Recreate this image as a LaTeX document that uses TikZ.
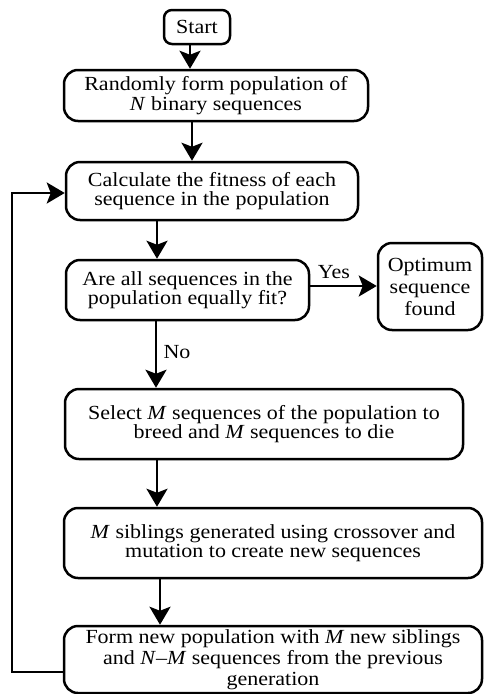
\documentclass[tikz,border=0pt]{standalone}
\usepackage{fontspec}
\setmainfont{Liberation Serif}[FakeStretch=1.1]
\usetikzlibrary{arrows.meta}
\begin{document}
\begin{tikzpicture}[x=1pt,y=-1pt,
  box/.style={draw, line width=2.5pt, rounded corners=14pt, inner sep=0pt,
    align=center, font=\fontsize{20}{19.5}\selectfont},
  arr/.style={line width=2.6pt, -{Stealth[length=18pt,width=21pt,inset=4pt]}},
  lbl/.style={font=\fontsize{20}{20}\selectfont, inner sep=0pt}]
\useasboundingbox (0,0) rectangle (483,694);

% process boxes
\node[box, minimum width=66pt, minimum height=34pt, rounded corners=8pt] (start) at (197,27) {Start};
\node[box, minimum width=304pt, minimum height=51pt] (rand) at (216,95.5)
  {Randomly form population of\\\textit{N} binary sequences};
\node[box, minimum width=292pt, minimum height=58pt] (calc) at (212,191)
  {Calculate the fitness of each\\sequence in the population};
\node[box, minimum width=243pt, minimum height=60pt] (test) at (187.5,290)
  {Are all sequences in the\\population equally fit?};
\node[box, minimum width=104pt, minimum height=87pt, font=\fontsize{20}{22}\selectfont] (opt) at (430,286.5)
  {Optimum\\sequence\\found};
\node[box, minimum width=398pt, minimum height=70pt] (sel) at (264,424)
  {Select \textit{M} sequences of the population to\\breed and \textit{M} sequences to die};
\node[box, minimum width=418pt, minimum height=70pt] (sib) at (273,543)
  {\textit{M} siblings generated using crossover and\\mutation to create new sequences};
\node[box, minimum width=418pt, minimum height=67pt, font=\fontsize{20}{21}\selectfont] (form) at (273,659.5)
  {Form new population with \textit{M} new siblings\\and \textit{N}--\textit{M} sequences from the previous\\generation};

% connector positions
\coordinate (x1) at (190,0);
\coordinate (x2) at (192,0);
\coordinate (x3) at (157,0);
\coordinate (x4) at (156,0);
\coordinate (x5) at (157,0);
\coordinate (x6) at (160,0);
\coordinate (yy) at (0,286);
\coordinate (fb1) at (12,672);
\coordinate (fb2) at (12,193);

% connectors
\draw[arr] (start.south -| x1) -- (rand.north -| x1);
\draw[arr] (rand.south -| x2) -- (calc.north -| x2);
\draw[arr] (calc.south -| x3) -- (test.north -| x3);
\draw[arr] (test.south -| x4) -- (sel.north -| x4);
\draw[arr] (sel.south -| x5) -- (sib.north -| x5);
\draw[arr] (sib.south -| x6) -- (form.north -| x6);
\draw[arr] (test.east |- yy) -- (opt.west |- yy);
\draw[arr] (form.west |- fb1) -- (fb1) -- (fb2) -- (calc.west |- fb2);

% branch labels
\node[lbl] (yes) at (334,272) {Yes};
\node[lbl] (no) at (177,352) {No};
\end{tikzpicture}
\end{document}
